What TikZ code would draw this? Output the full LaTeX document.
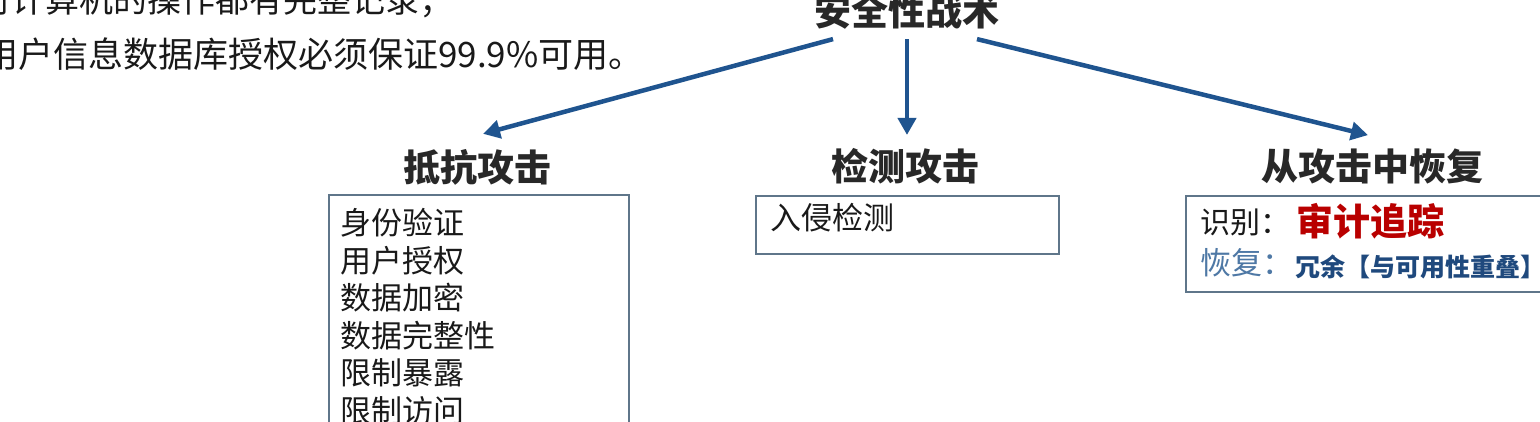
\documentclass[tikz,border=0pt]{standalone}
\usepackage{fontspec}
\setmainfont{Noto Sans CJK SC}
\usetikzlibrary{arrows.meta}
\definecolor{arrowblue}{RGB}{31,84,143}
\definecolor{boxline}{RGB}{95,118,138}
\definecolor{auditred}{RGB}{185,0,0}
\definecolor{recblue}{RGB}{78,120,165}
\definecolor{smallblue}{RGB}{31,73,125}
\definecolor{txt}{RGB}{25,25,25}
\definecolor{headtxt}{RGB}{40,40,40}
\newcommand\fsz[2]{\fontsize{#1pt}{#2pt}\selectfont}
\begin{document}
\begin{tikzpicture}[x=1pt,y=-1pt,
  lbl/.style={inner sep=0pt, text=txt},
  head/.style={inner sep=0pt, text=headtxt, font=\fsz{37}{40}\bfseries},
  box/.style={draw=boxline, line width=1.6pt, inner sep=0pt, anchor=north west},
  arr/.style={draw=arrowblue, line width=4.5pt, -{Triangle[length=17pt,width=18pt]}}]
\useasboundingbox (0,0) rectangle (1540,421);
\clip (0,0) rectangle (1540,421);
\fill[white] (0,0) rectangle (1540,421);

% top-left text
\node[lbl, anchor=west, font=\fsz{34}{37}] (n1) at (-23,1) {对计算机的操作都有完整记录；};
\node[lbl, anchor=west, font=\fsz{35}{38}] (n2) at (-17,54) {用户信息数据库授权必须保证99.9\%可用。};

% title
\node[head] (t) at (907,11) {安全性战术};

% headings
\node[head] (h1) at (477,167) {抵抗攻击};
\node[head] (h2) at (905,166) {检测攻击};
\node[head] (h3) at (1372,166) {从攻击中恢复};

% arrows
\draw[arr] ([xshift=-74pt,yshift=-10pt]t.south) -- ([xshift=6pt,yshift=15pt]h1.north);
\draw[arr] ([yshift=-10pt]t.south) -- ([xshift=2pt,yshift=13pt]h2.north);
\draw[arr] ([xshift=70pt,yshift=-10pt]t.south) -- ([xshift=-4pt,yshift=13pt]h3.north);

% boxes
\node[box, minimum width=300pt, minimum height=260pt] (b1) at (328,194) {};
\node[box, minimum width=303pt, minimum height=58pt] (b2) at (755,195) {};
\node[box, minimum width=362pt, minimum height=96pt] (b3) at (1185,195) {};

% box 1 list
\node[lbl, anchor=north west, align=left, font=\fsz{31}{37.6}] (l1)
  at ([xshift=12pt,yshift=-14pt]b1.north west)
  {身份验证\\用户授权\\数据加密\\数据完整性\\限制暴露\\限制访问};

% box 2
\node[lbl, anchor=west, font=\fsz{31}{34}] (l2) at (770,218) {入侵检测};

% box 3
\node[lbl, anchor=west, font=\fsz{30}{33}] (id) at (1200,222) {识别：};
\node[lbl, anchor=west, font=\fsz{37}{40}\bfseries, text=auditred] (audit) at (1296,221) {审计追踪};
\node[lbl, anchor=west, font=\fsz{31}{34}, text=recblue] (rec) at (1200,263) {恢复：};
\node[lbl, anchor=west, font=\fsz{25}{27}\bfseries, text=smallblue] (red) at (1295,267) {冗余【与可用性重叠】};
\end{tikzpicture}
\end{document}
